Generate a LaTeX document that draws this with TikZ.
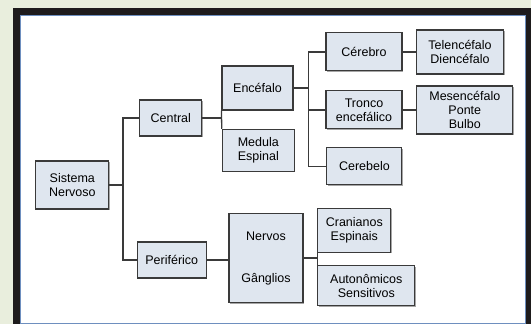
\documentclass[tikz,border=0pt]{standalone}
\usepackage{fontspec}
\setmainfont{Liberation Sans}
\usepackage{xcolor}
\usepackage{tikz}
\usetikzlibrary{positioning,shadows,calc}
\definecolor{boxfill}{HTML}{DFE6EF}
\definecolor{boxline}{HTML}{3A3A3A}
\definecolor{panelline}{HTML}{6E8FBF}
\definecolor{framecol}{HTML}{1E1B1C}
\definecolor{backdrop}{HTML}{E9EEDD}

\begin{document}
\begin{tikzpicture}[x=1pt,y=-1pt,
	box/.style={rectangle,draw=boxline,line width=1.1pt,fill=boxfill,align=center,
		font=\fontsize{12.5}{14}\selectfont,inner sep=0pt,
		drop shadow={shadow xshift=1pt,shadow yshift=-1pt,opacity=.35,fill=black}},
	link/.style={draw=boxline,line width=1.3pt}]

    % backdrop, frame and white panel
    \useasboundingbox (0,0) rectangle (531,324);
    \fill[backdrop] (0,0) rectangle (531,324);
    \fill[framecol] (13,8) rectangle (531,324);
    \fill[white,draw=panelline,line width=.8pt] (20,15) rectangle (525,323.5);

    \node[box,minimum width=73pt,minimum height=48pt] (sn) at (72.3,185) {Sistema\\Nervoso};
    \node[box,minimum width=62pt,minimum height=36pt] (central) at (170.8,118) {Central};
    \node[box,minimum width=69pt,minimum height=36pt] (perif) at (171.8,260) {Periférico};

    \node[box,minimum width=71pt,minimum height=44pt] (encef) at (257.5,88) {Encéfalo};
    \node[box,minimum width=72pt,minimum height=42pt] (medula) at (258.3,150.3) {Medula\\Espinal};

    \node[box,minimum width=76pt,minimum height=38pt] (cerebro) at (364,51.9) {Cérebro};
    \node[box,minimum width=76pt,minimum height=38pt] (tronco) at (364,109.9) {Tronco\\encefálico};
    \node[box,minimum width=75pt,minimum height=37pt] (cerebelo) at (364.4,166.3) {Cerebelo};

    \node[box,minimum width=87pt,minimum height=44pt] (telen) at (460,52) {Telencéfalo\\Diencéfalo};
    \node[box,minimum width=96pt,minimum height=48pt] (mesen) at (464.8,110) {Mesencéfalo\\Ponte\\Bulbo};

    \node[box,minimum width=74pt,minimum height=89pt] (nervos) at (266,258) {Nervos\\[28pt]Gânglios};
    \node[box,minimum width=73pt,minimum height=44pt] (cran) at (354.3,230.3) {Cranianos\\Espinais};
    \node[box,minimum width=97pt,minimum height=40pt] (auton) at (366.3,285.7) {Autonômicos\\Sensitivos};

    % tree connectors
    \coordinate (snfork) at ($(sn.east)+(13.6,0)$);
    \draw[link] (sn.east) -- (snfork);
    \draw[link] (central.west) -| (snfork) |- (perif.west);

    \draw[link] (central.east) -- (central.east -| encef.west);
    \draw[link] (encef.south west) -- (medula.north west);

    \coordinate (encfork) at ($(encef.east)+(15,0)$);
    \draw[link] (encef.east) -- (encfork);
    \draw[link] (cerebro.west) -| (encfork) |- (cerebelo.west);
    \draw[link] (encfork |- tronco.west) -- (tronco.west);

    \draw[link] (cerebro.east) -- (cerebro.east -| telen.west);
    \draw[link] (tronco.east) -- (tronco.east -| mesen.west);

    \draw[link] (perif.east) -- (perif.east -| nervos.west);
    \draw[link] (nervos.east) -- (nervos.east -| cran.west);
    \draw[link] (cran.south west) -- (auton.north west);

\end{tikzpicture}
\end{document}
